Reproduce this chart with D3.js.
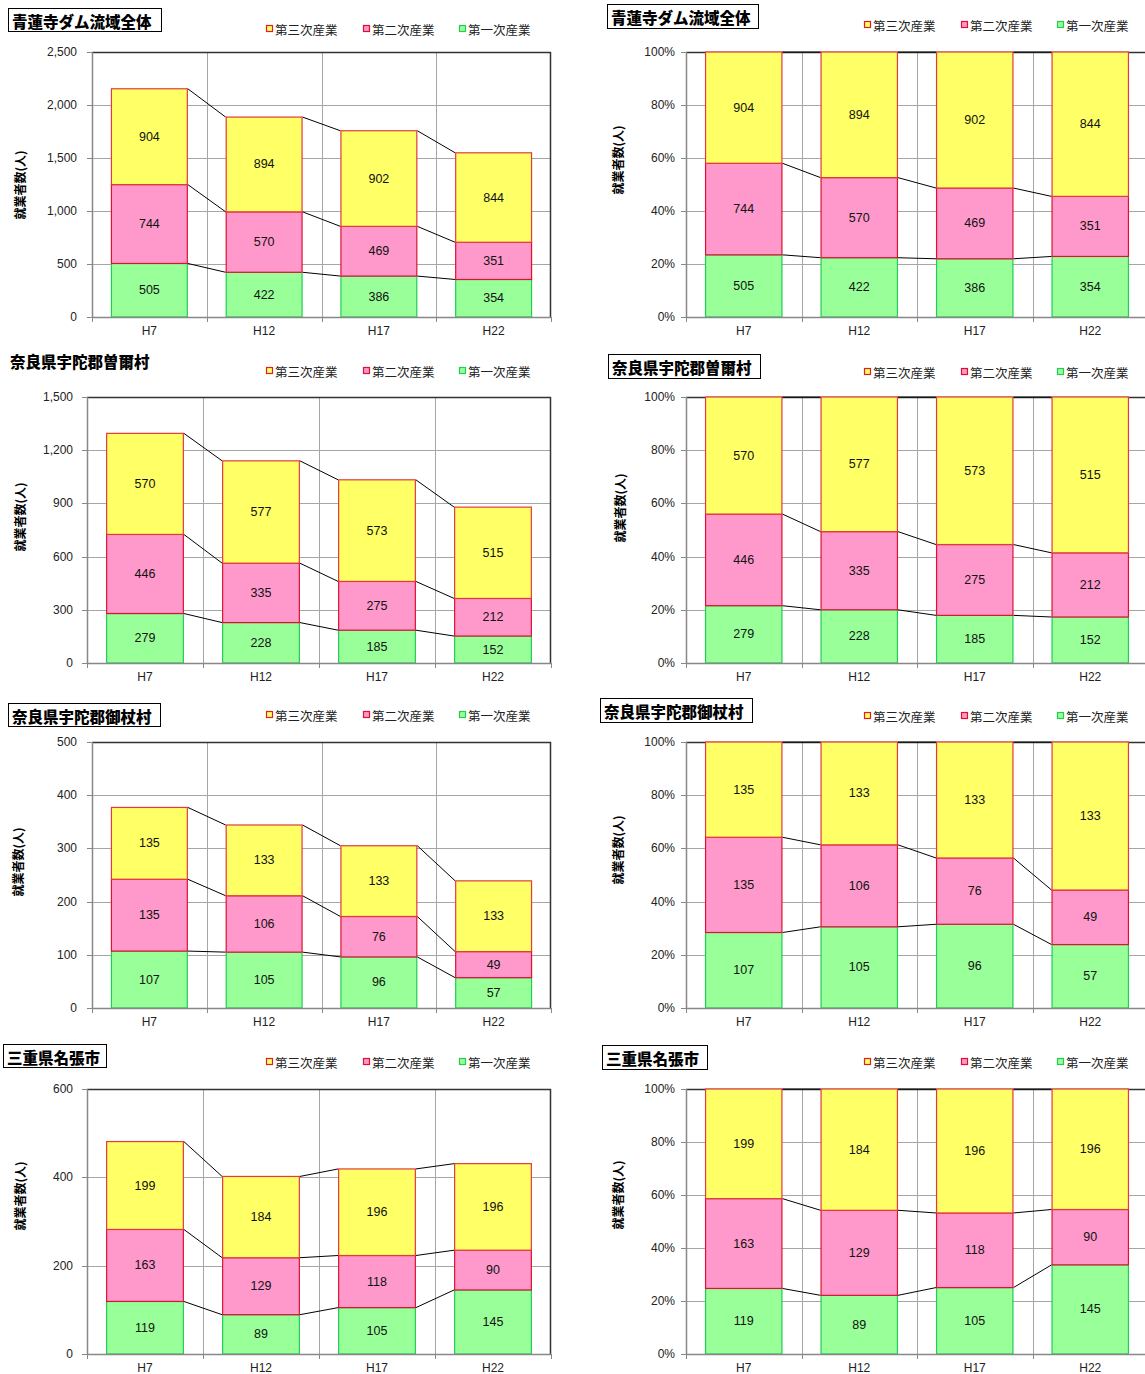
<!DOCTYPE html>
<html><head><meta charset="utf-8">
<script src="https://cdn.jsdelivr.net/npm/d3@7"></script>
<style>
body{margin:0;background:#fff;}
svg{display:block;font-family:"Liberation Sans",Arial,"Noto Sans CJK JP",sans-serif;}
</style></head>
<body>
<svg id="c" width="1145" height="1374"></svg>
<script>
const categories = ["H7","H12","H17","H22"];
const seriesNames = ["第一次産業","第二次産業","第三次産業"];
const legendNames = ["第三次産業","第二次産業","第一次産業"];
const yTitle = "就業者数(人)";

const shorenjiPrimary = [505,422,386,354];
const shorenjiSecondary = [744,570,469,351];
const shorenjiTertiary = [904,894,902,844];

const soniPrimary = [279,228,185,152];
const soniSecondary = [446,335,275,212];
const soniTertiary = [570,577,573,515];

const mitsuePrimary = [107,105,96,57];
const mitsueSecondary = [135,106,76,49];
const mitsueTertiary = [135,133,133,133];

const nabariPrimary = [119,89,105,145];
const nabariSecondary = [163,129,118,90];
const nabariTertiary = [199,184,196,196];

const titles = ["青蓮寺ダム流域全体","奈良県宇陀郡曽爾村","奈良県宇陀郡御杖村","三重県名張市"];
const countTicks = [
  [0,500,1000,1500,2000,2500],
  [0,300,600,900,1200,1500],
  [0,100,200,300,400,500],
  [0,200,400,600]
];
const pctTicks = [0,0.2,0.4,0.6,0.8,1.0];

const datasets = [
  [shorenjiPrimary, shorenjiSecondary, shorenjiTertiary],
  [soniPrimary, soniSecondary, soniTertiary],
  [mitsuePrimary, mitsueSecondary, mitsueTertiary],
  [nabariPrimary, nabariSecondary, nabariTertiary]
];

// layout (positions only)
const fills = ["#99FF99","#FF99CC","#FFFF66"];
const strokes = ["#22CC55","#DD1133","#E23B3B"];
const legendFill = ["#FFFF66","#FF99CC","#99FF99"];
const legendStroke = ["#E02020","#DD1133","#22CC55"];

const panels = [
  {row:0,pct:false,left:92,right:551,top:52,bottom:317,box:[8,8,161,31],titleX:12,legY:29,legX:[266,363,459],yTitleX:19,yTitleY:185,labelX:77},
  {row:0,pct:true,left:686,right:1148,top:52,bottom:317,box:[607,4,758,28],titleX:611,legY:25,legX:[864,961,1057],yTitleX:617,yTitleY:160,labelX:675},
  {row:1,pct:false,left:87,right:551,top:397,bottom:663,box:null,titleX:10,titleY:361,legY:371,legX:[266,363,459],yTitleX:19,yTitleY:517,labelX:73},
  {row:1,pct:true,left:686,right:1148,top:397,bottom:663,box:[608,354,760,378],titleX:612,legY:372,legX:[864,961,1057],yTitleX:619,yTitleY:508,labelX:675},
  {row:2,pct:false,left:92,right:551,top:742,bottom:1008,box:[8,703,160,726],titleX:12,legY:715,legX:[266,363,459],yTitleX:17,yTitleY:862,labelX:77},
  {row:2,pct:true,left:686,right:1148,top:742,bottom:1008,box:[600,698,752,722],titleX:604,legY:716,legX:[864,961,1057],yTitleX:617,yTitleY:850,labelX:675},
  {row:3,pct:false,left:87,right:551,top:1089,bottom:1354,box:[3,1044,106,1067],titleX:7,legY:1062,legX:[266,363,459],yTitleX:19,yTitleY:1196,labelX:73},
  {row:3,pct:true,left:686,right:1148,top:1089,bottom:1354,box:[602,1045,707,1069],titleX:606,legY:1062,legX:[864,961,1057],yTitleX:617,yTitleY:1195,labelX:675}
];

const svg = d3.select("#c");

panels.forEach(p => {
  const data = datasets[p.row];
  const g = svg.append("g");
  const totals = categories.map((c,i)=> data[0][i]+data[1][i]+data[2][i]);
  const ticks = p.pct ? pctTicks : countTicks[p.row];
  const ymax = ticks[ticks.length-1];
  const x = d3.scaleBand().domain(categories).range([p.left,p.right]).paddingInner(0.33).paddingOuter(0.165);
  const xo = d3.scaleBand().domain(categories).range([p.left,p.right]);
  const y = d3.scaleLinear().domain([0,ymax]).range([p.bottom,p.top]);
  const val = (v,i) => p.pct ? v/totals[i] : v;

  g.selectAll(".hg").data(ticks).join("line")
    .attr("x1",p.left).attr("x2",p.right)
    .attr("y1",d=>Math.round(y(d))+0.5).attr("y2",d=>Math.round(y(d))+0.5)
    .attr("stroke","#A6A6A6").attr("stroke-width",1);
  g.selectAll(".vg").data(categories.slice(1)).join("line")
    .attr("x1",d=>Math.round(xo(d))+0.5).attr("x2",d=>Math.round(xo(d))+0.5)
    .attr("y1",p.top).attr("y2",p.bottom)
    .attr("stroke","#A6A6A6").attr("stroke-width",1);
  g.append("line").attr("x1",p.left).attr("x2",p.right).attr("y1",p.top+0.5).attr("y2",p.top+0.5).attr("stroke","#333").attr("stroke-width",1.5);
  g.append("line").attr("x1",p.right-0.5).attr("x2",p.right-0.5).attr("y1",p.top).attr("y2",p.bottom).attr("stroke","#333").attr("stroke-width",1.5);

  const stackData = categories.map((c,i)=>{
    let cum = 0;
    return data.map((s,k)=>{ const v0=cum; cum += val(s[i],i); return {cat:c, k, y0:v0, y1:cum, raw:s[i]}; });
  });

  for (let k=0;k<3;k++){
    for (let i=0;i<categories.length-1;i++){
      const a = stackData[i][k], b = stackData[i+1][k];
      g.append("line")
        .attr("x1",x(categories[i])+x.bandwidth()).attr("y1",y(a.y1))
        .attr("x2",x(categories[i+1])).attr("y2",y(b.y1))
        .attr("stroke","#000").attr("stroke-width",1);
    }
  }

  stackData.forEach(segs=>{
    segs.forEach(s=>{
      g.append("rect")
        .attr("x",x(s.cat)+0.5).attr("width",x.bandwidth()-1)
        .attr("y",y(s.y1)).attr("height",y(s.y0)-y(s.y1))
        .attr("fill",fills[s.k]).attr("stroke",strokes[s.k]).attr("stroke-width",1.2);
      g.append("text")
        .attr("x",x(s.cat)+x.bandwidth()/2).attr("y",(y(s.y0)+y(s.y1))/2)
        .attr("text-anchor","middle").attr("dominant-baseline","central")
        .attr("font-size",12.5).attr("fill","#111").text(s.raw);
    });
  });

  g.append("line").attr("x1",p.left+0.5).attr("x2",p.left+0.5).attr("y1",p.top).attr("y2",p.bottom).attr("stroke","#888").attr("stroke-width",1.5);
  g.selectAll(".yt").data(ticks).join("line")
    .attr("x1",p.left-5).attr("x2",p.left).attr("y1",d=>Math.round(y(d))+0.5).attr("y2",d=>Math.round(y(d))+0.5)
    .attr("stroke","#888");
  const fmt = p.pct ? d3.format(".0%") : d3.format(",");
  g.selectAll(".yl").data(ticks).join("text")
    .attr("x",p.labelX).attr("y",d=>y(d)).attr("text-anchor","end").attr("dominant-baseline","central")
    .attr("font-size",12).attr("fill","#222").text(d=>fmt(d));
  g.append("line").attr("x1",p.left).attr("x2",p.right).attr("y1",p.bottom+0.5).attr("y2",p.bottom+0.5).attr("stroke","#888").attr("stroke-width",1.5);
  g.selectAll(".xt").data(categories.concat(["end"])).join("line")
    .attr("x1",(d,i)=>Math.round(p.left+i*xo.step())+0.5).attr("x2",(d,i)=>Math.round(p.left+i*xo.step())+0.5)
    .attr("y1",p.bottom).attr("y2",p.bottom+5).attr("stroke","#888");
  g.selectAll(".xl").data(categories).join("text")
    .attr("x",d=>xo(d)+xo.bandwidth()/2).attr("y",p.bottom+13.5).attr("text-anchor","middle").attr("dominant-baseline","central")
    .attr("font-size",12).attr("fill","#222").text(d=>d);

  g.append("text")
    .attr("transform",`translate(${p.yTitleX},${p.yTitleY}) rotate(-90)`)
    .attr("text-anchor","middle").attr("dominant-baseline","central")
    .attr("font-size",12).attr("font-weight","bold").attr("font-family","'Noto Sans CJK JP',sans-serif")
    .attr("fill","#000").text(yTitle);

  if (p.box){
    const [x0,y0,x1,y1] = p.box;
    g.append("rect").attr("x",x0+0.5).attr("y",y0+0.5).attr("width",x1-x0).attr("height",y1-y0)
      .attr("fill","#fff").attr("stroke","#000").attr("stroke-width",1);
    g.append("text").attr("x",p.titleX).attr("y",(y0+y1)/2+1).attr("dominant-baseline","central")
      .attr("font-size",15.5).attr("font-weight","900").attr("font-family","'Noto Sans CJK JP',sans-serif")
      .attr("fill","#000").text(titles[p.row]);
  } else {
    g.append("text").attr("x",p.titleX).attr("y",p.titleY).attr("dominant-baseline","central")
      .attr("font-size",15.5).attr("font-weight","900").attr("font-family","'Noto Sans CJK JP',sans-serif")
      .attr("fill","#000").text(titles[p.row]);
  }

  legendNames.forEach((n,j)=>{
    g.append("rect").attr("x",p.legX[j]+0.5).attr("y",p.legY-3.5).attr("width",6).attr("height",6)
      .attr("fill",legendFill[j]).attr("stroke",legendStroke[j]).attr("stroke-width",1.2);
    g.append("text").attr("x",p.legX[j]+9).attr("y",p.legY).attr("dominant-baseline","central")
      .attr("font-size",12.5).attr("font-family","'Noto Sans CJK JP',sans-serif").attr("fill","#222").text(n);
  });
});
</script>
</body></html>
